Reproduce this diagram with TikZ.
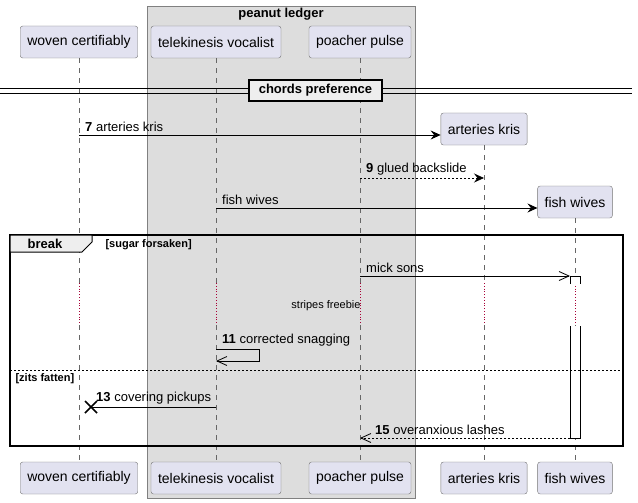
\documentclass[tikz,border=0pt]{standalone}
\usepackage{fontspec}
\setmainfont{Liberation Sans}
\usepackage{tikz}
\usetikzlibrary{arrows.meta}

\definecolor{partfill}{HTML}{E2E2F0}
\definecolor{boxfill}{HTML}{DDDDDD}
\definecolor{grpfill}{HTML}{EEEEEE}
\definecolor{delayred}{HTML}{A80036}

\begin{document}
\begin{tikzpicture}[
  x=1pt, y=-1pt,
  part/.style={draw=black!55, fill=partfill, rounded corners=2.5pt, minimum height=32pt,
    inner xsep=7pt, font=\fontsize{14}{16}\selectfont},
  life/.style={draw=black!60, dash pattern=on 5pt off 5pt, line width=0.6pt},
  delay/.style={draw=delayred, dotted, line width=0.8pt},
  msg/.style={line width=0.8pt, -{Stealth[length=10pt,width=9pt,inset=3.5pt]}},
  rmsg/.style={line width=0.8pt, dash pattern=on 2pt off 2pt, -{Stealth[length=10pt,width=9pt,inset=3.5pt]}},
  amsg/.style={line width=0.8pt, -{Straight Barb[length=10pt,width=9pt]}},
  armsg/.style={line width=0.8pt, dash pattern=on 2pt off 2pt, -{Straight Barb[length=10pt,width=9pt]}},
  lab/.style={anchor=south west, inner sep=1pt, font=\fontsize{13}{15}\selectfont},
  grp/.style={draw=black, line width=1.5pt}
]
\useasboundingbox (0,0) rectangle (638,503);

% box round the grouped participants
\draw[draw=black!50, fill=boxfill] (147,6) rectangle (415,498);
\node[font=\bfseries\fontsize{13}{15}\selectfont] (ledger) at (281,14) {peanut ledger};

% participants (top)
\node[part] (wc)  at (79,42)  {woven certifiably};
\node[part] (tv)  at (216,42) {telekinesis vocalist};
\node[part] (pp)  at (360,42) {poacher pulse};
\node[part] (ak)  at (484,129) {arteries kris};
\node[part] (fw)  at (575,202) {fish wives};

% participants (bottom)
\node[part] (wcb) at (79,478)  {woven certifiably};
\node[part] (tvb) at (216,478) {telekinesis vocalist};
\node[part] (ppb) at (360,478) {poacher pulse};
\node[part] (akb) at (484,478) {arteries kris};
\node[part] (fwb) at (575,478) {fish wives};

% lifelines, with the delay part dotted
\foreach \t/\b/\x in {wc/wcb/79, tv/tvb/216, pp/ppb/360, ak/akb/484, fw/fwb/575} {
  \draw[life] (\t.south) -- (\x,283);
  \draw[delay] (\x,283) -- (\x,325);
  \draw[life] (\x,325) -- (\b.north);
}

% divider
\draw[line width=0.8pt] (0,88) -- (632,88);
\draw[line width=0.8pt] (0,93) -- (632,93);
\node[draw=black, line width=1.5pt, fill=grpfill, minimum width=133pt, minimum height=21pt,
  font=\bfseries\fontsize{13}{15}\selectfont] (chords) at (315.5,90.5) {chords preference};

% messages before the group
\coordinate (m7a) at (79,135);
\coordinate (m7b) at (ak.west |- m7a);
\draw[msg] (m7a) -- (m7b);
\node[lab] (l7) at (84,133) {\textbf{7} arteries kris};

\coordinate (m9a) at (360,178);
\coordinate (m9b) at (484,178);
\draw[rmsg] (m9a) -- (m9b);
\node[lab] (l9) at (365,176) {\textbf{9} glued backslide};

\coordinate (mfa) at (216,208);
\coordinate (mfb) at (fw.west |- mfa);
\draw[msg] (mfa) -- (mfb);
\node[lab] (lf) at (221,206) {fish wives};

% activation bar of fish wives
\draw[line width=0.8pt, fill=white] (570,284) -- (570,276) -- (580,276) -- (580,284);
\draw[line width=0.8pt, fill=white] (570,326) -- (570,438) -- (580,438) -- (580,326);

% break group
\draw[grp] (10,235) rectangle (623,446);
\draw[line width=1pt, fill=grpfill] (10,235) -- (10,252) -- (82,252) -- (92,242) -- (92,235) -- cycle;
\node[font=\bfseries\fontsize{13}{15}\selectfont] (brk) at (45,244) {break};
\node[anchor=west, font=\bfseries\fontsize{11}{13}\selectfont] (g1) at (102,245) {[sugar forsaken]};

\coordinate (msa) at (360,276);
\coordinate (msb) at (570,276);
\draw[amsg] (msa) -- (msb);
\node[lab] (lms) at (365,274) {mick sons};

\node[font=\fontsize{11}{13}\selectfont] (dly) at (326,306) {stripes freebie};

% self message
\coordinate (m11a) at (216,349);
\coordinate (m11b) at (259,349);
\coordinate (m11c) at (259,361);
\coordinate (m11d) at (216,361);
\draw[amsg] (m11a) -- (m11b) -- (m11c) -- (m11d);
\node[lab] (l11) at (221,347) {\textbf{11} corrected snagging};

% else
\draw[line width=0.8pt, dash pattern=on 2pt off 2pt] (10,370) -- (623,370);
\node[anchor=west, font=\bfseries\fontsize{11}{13}\selectfont] (g2) at (12,379) {[zits fatten]};

\coordinate (m13a) at (216,407);
\coordinate (m13b) at (91,407);
\draw[line width=0.8pt] (m13a) -- (m13b);
\draw[line width=1.6pt] (85,401) -- (97,413) (85,413) -- (97,401);
\node[lab] (l13) at (95,405) {\textbf{13} covering pickups};

\coordinate (m15a) at (570,438);
\coordinate (m15b) at (360,438);
\draw[armsg] (m15a) -- (m15b);
\node[lab] (l15) at (374,436) {\textbf{15} overanxious lashes};

\end{tikzpicture}
\end{document}
